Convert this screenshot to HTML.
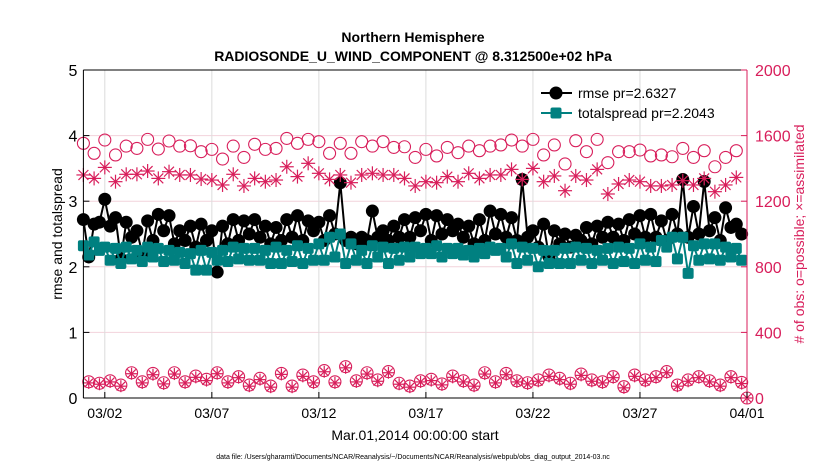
<!DOCTYPE html>
<html><head><meta charset="utf-8">
<style>
body{margin:0;background:#fff;}
svg{display:block;font-family:"Liberation Sans",sans-serif;}
</style></head>
<body>
<svg id="chart" width="830" height="470" viewBox="0 0 830 470" xmlns="http://www.w3.org/2000/svg">
<rect width="830" height="470" fill="#fff"/>
<text x="413" y="42" text-anchor="middle" font-size="14" font-weight="bold">Northern Hemisphere</text>
<text x="413" y="61" text-anchor="middle" font-size="14" font-weight="bold">RADIOSONDE_U_WIND_COMPONENT @ 8.312500e+02 hPa</text>
<g id="grid"></g>
<g id="plot"></g>
<g id="axes"></g>
<text transform="translate(62,234) rotate(-90)" text-anchor="middle" font-size="14">rmse and totalspread</text>
<text transform="translate(804,234) rotate(-90)" text-anchor="middle" font-size="14" fill="#d81e5b"># of obs: o=possible; ×=assimilated</text>
<text x="415" y="440" text-anchor="middle" font-size="14">Mar.01,2014 00:00:00 start</text>
<text x="413" y="459" text-anchor="middle" font-size="7">data file: /Users/gharamti/Documents/NCAR/Reanalysis/~/Documents/NCAR/Reanalysis/webpub/obs_diag_output_2014-03.nc</text>
<g id="legend">
  <line x1="541" y1="93" x2="572" y2="93" stroke="#000" stroke-width="2"/>
  <circle cx="556" cy="93" r="6.5" fill="#000"/>
  <text x="578" y="98" font-size="14">rmse pr=2.6327</text>
  <line x1="541" y1="113" x2="572" y2="113" stroke="#008080" stroke-width="2"/>
  <rect x="550.5" y="107.5" width="11" height="11" rx="2" fill="#008080"/>
  <text x="578" y="118" font-size="14">totalspread pr=2.2043</text>
</g>
</svg>
<script>
const xTickLabels = ["03/02","03/07","03/12","03/17","03/22","03/27","04/01"];
const xTickDays = [1,6,11,16,21,26,31];
const yLeftTicks = [0,1,2,3,4,5];
const yRightTicks = [0,400,800,1200,1600,2000];
const rmse = [
2.72,2.15,2.65,2.68, 3.03,2.62,2.75,2.12, 2.68,2.45,2.55,2.20, 2.70,2.40,2.80,2.55,
2.78,2.35,2.55,2.40, 2.62,2.30,2.65,2.40, 2.55,1.92,2.62,2.35, 2.72,2.40,2.70,2.50,
2.72,2.45,2.62,2.35, 2.60,2.40,2.72,2.45, 2.78,2.40,2.70,2.55, 2.68,2.40,2.78,2.50,
3.28,2.40,2.45,2.35, 2.45,2.40,2.85,2.45, 2.55,2.40,2.62,2.45, 2.72,2.45,2.75,2.55,
2.80,2.40,2.78,2.50, 2.72,2.55,2.65,2.45, 2.62,2.35,2.72,2.40, 2.85,2.50,2.80,2.45,
2.75,2.40,3.33,2.45, 2.55,2.30,2.65,2.15, 2.55,2.35,2.50,2.30, 2.48,2.40,2.60,2.35,
2.62,2.45,2.68,2.45, 2.65,2.40,2.72,2.50, 2.78,2.45,2.80,2.45, 2.70,2.40,2.80,2.50,
3.33,2.45,2.92,2.50, 3.30,2.55,2.75,2.40, 2.90,2.60,2.65,2.50];
const spread = [
2.32,2.18,2.38,2.25, 2.30,2.10,2.28,2.05, 2.30,2.12,2.25,2.08, 2.30,2.15,2.28,2.08,
2.25,2.10,2.22,2.05, 2.20,1.95,2.25,1.95, 2.22,2.10,2.25,2.08, 2.30,2.12,2.28,2.10,
2.28,2.10,2.25,2.05, 2.30,2.05,2.25,2.08, 2.32,2.05,2.28,2.10, 2.35,2.10,2.45,2.15,
2.50,2.05,2.35,2.10, 2.25,2.05,2.32,2.15, 2.30,2.05,2.28,2.10, 2.30,2.15,2.30,2.20,
2.28,2.20,2.32,2.15, 2.28,2.20,2.28,2.18, 2.25,2.15,2.28,2.20, 2.30,2.25,2.28,2.15,
2.35,2.05,2.30,2.10, 2.28,2.00,2.25,2.05, 2.25,2.05,2.28,2.05, 2.30,2.10,2.28,2.05,
2.25,2.10,2.28,2.05, 2.30,2.08,2.28,2.05, 2.35,2.10,2.30,2.08, 2.40,2.30,2.45,2.12,
2.45,1.90,2.32,2.10, 2.35,2.12,2.35,2.10, 2.30,2.15,2.28,2.10];
const obsPossibleMain = [
1553,1492,1573,1482,1536,1522,1577,1518,1567,1536,1538,1502,1516,1457,1536,1467,
1547,1516,1522,1583,1553,1577,1563,1492,1553,1492,1563,1536,1563,1528,1532,1467,
1516,1476,1528,1496,1536,1508,1536,1543,1573,1536,1577,1482,1543,1427,1569,1502,
1577,1435,1502,1502,1512,1476,1482,1471,1522,1467,1508,1410,1467,1508];
const obsAssimMain = [
1360,1339,1406,1319,1364,1364,1384,1339,1380,1360,1360,1335,1329,1299,1364,1293,
1339,1319,1329,1410,1350,1431,1370,1333,1360,1313,1360,1370,1360,1360,1339,1293,
1319,1313,1350,1319,1370,1339,1360,1360,1394,1333,1400,1319,1354,1264,1354,1329,
1394,1244,1305,1329,1319,1293,1293,1299,1325,1299,1339,1258,1299,1345];
const obsPossibleOff = [
99,90,105,79,154,99,150,93,154,99,134,114,154,99,130,79,
120,73,150,73,140,99,167,99,191,105,154,110,161,90,73,105,
114,86,134,105,79,154,99,150,105,93,110,140,120,90,146,110,
99,130,69,140,110,130,161,79,110,130,105,79,130,95,0];
const obsAssimOff = [
92,84,98,72,148,92,142,86,146,92,126,106,148,92,124,72,
112,66,144,66,132,92,160,92,184,98,146,102,154,84,66,98,
106,80,126,98,72,146,92,142,98,86,102,132,112,84,138,102,
92,124,62,132,102,124,154,72,102,124,98,72,124,88,0];

const X0=83.4, X1=747, Y0=398, Y1=70;
const xS = d => X0 + d*(X1-X0)/31;
const yL = v => Y0 - v*(Y0-Y1)/5;
const yR = v => Y0 - v*(Y0-Y1)/2000;
const NS="http://www.w3.org/2000/svg";
const MAG="#d81e5b", TEAL="#008080";
function mk(tag, attrs, parent){const e=document.createElementNS(NS,tag);for(const k in attrs)e.setAttribute(k,attrs[k]);parent.appendChild(e);return e;}
const grid=document.getElementById('grid'), plot=document.getElementById('plot'), axes=document.getElementById('axes');

// grid
yRightTicks.forEach((v,i)=>{ if(i>0&&i<yRightTicks.length-1){
  const g=mk('line',{x1:X0,x2:X1,y1:yR(v),y2:yR(v),stroke:'#f2d3dc','stroke-width':1},grid);
  
  }});
xTickDays.forEach(d=>{
  const g=mk('line',{x1:xS(d),x2:xS(d),y1:Y1,y2:Y0,stroke:'#dcdcdc','stroke-width':1},grid);
  
  });

// rmse line and markers
const tMain = i => i*0.25;
let p=rmse.map((v,i)=>xS(tMain(i)).toFixed(1)+','+yL(v).toFixed(1)).join(' ');
const rl=mk('polyline',{points:p,fill:'none',stroke:'#000','stroke-width':2},plot);


rmse.forEach((v,i)=>{const c=mk('circle',{cx:xS(tMain(i)),cy:yL(v),r:6.5,fill:'#000'},plot);
  
  });
p=spread.map((v,i)=>xS(tMain(i)).toFixed(1)+','+yL(v).toFixed(1)).join(' ');
const sl=mk('polyline',{points:p,fill:'none',stroke:TEAL,'stroke-width':2},plot);


spread.forEach((v,i)=>{const r=mk('rect',{x:xS(tMain(i))-5.5,y:yL(v)-5.5,width:11,height:11,rx:2,fill:TEAL},plot);
  
  });

function star(cx,cy,s,name){
  const g=mk('g',{stroke:MAG,'stroke-width':1.2},plot);
  
  
  const d=s*0.707;
  mk('line',{x1:cx-s,y1:cy,x2:cx+s,y2:cy},g);
  mk('line',{x1:cx,y1:cy-s,x2:cx,y2:cy+s},g);
  mk('line',{x1:cx-d,y1:cy-d,x2:cx+d,y2:cy+d},g);
  mk('line',{x1:cx-d,y1:cy+d,x2:cx+d,y2:cy-d},g);
}
const tOn = i => i*0.5;
const tOff = i => i<62 ? 0.25+i*0.5 : 31;
obsPossibleMain.forEach((v,i)=>{const c=mk('circle',{cx:xS(tOn(i)),cy:yR(v),r:6,fill:'none',stroke:MAG,'stroke-width':1.1},plot);
  
  });
obsAssimMain.forEach((v,i)=>star(xS(tOn(i)),yR(v),7,'obs-assimilated-point'));
obsPossibleOff.forEach((v,i)=>{const c=mk('circle',{cx:xS(tOff(i)),cy:yR(v),r:6,fill:'none',stroke:MAG,'stroke-width':1.1},plot);
  
  });
obsAssimOff.forEach((v,i)=>star(xS(tOff(i)),yR(v),6,'obs-assimilated-point-offhour'));

// axes box
const ab=[['x-axis-line',X0,Y0,X1,Y0,'#000'],['top-border',X0,Y1,X1,Y1,'#000'],['y-axis-left-line',X0,Y1,X0,Y0,'#000'],['y-axis-right-line',X1,Y1,X1,Y0,MAG]];
ab.forEach(a=>{const l=mk('line',{x1:a[1],y1:a[2],x2:a[3],y2:a[4],stroke:a[5],'stroke-width':1},axes);
  
  });
yLeftTicks.forEach(v=>{
  mk('line',{x1:X0,x2:X0+6,y1:yL(v),y2:yL(v),stroke:'#000'},axes);
  const t=mk('text',{x:X0-6,y:yL(v)+6,'text-anchor':'end','font-size':16},axes);
  t.textContent=v;
  
  });
yRightTicks.forEach(v=>{
  mk('line',{x1:X1-6,x2:X1,y1:yR(v),y2:yR(v),stroke:MAG},axes);
  const t=mk('text',{x:X1+8,y:yR(v)+6,'font-size':16,fill:MAG},axes);
  t.textContent=v;
  
  });
xTickLabels.forEach((s,i)=>{
  const x=xS(xTickDays[i]);
  mk('line',{x1:x,x2:x,y1:Y0,y2:Y0-6,stroke:'#000'},axes);
  const t=mk('text',{x:x,y:Y0+20,'text-anchor':'middle','font-size':14},axes);
  t.textContent=s;
  
  });
</script>
</body></html>
